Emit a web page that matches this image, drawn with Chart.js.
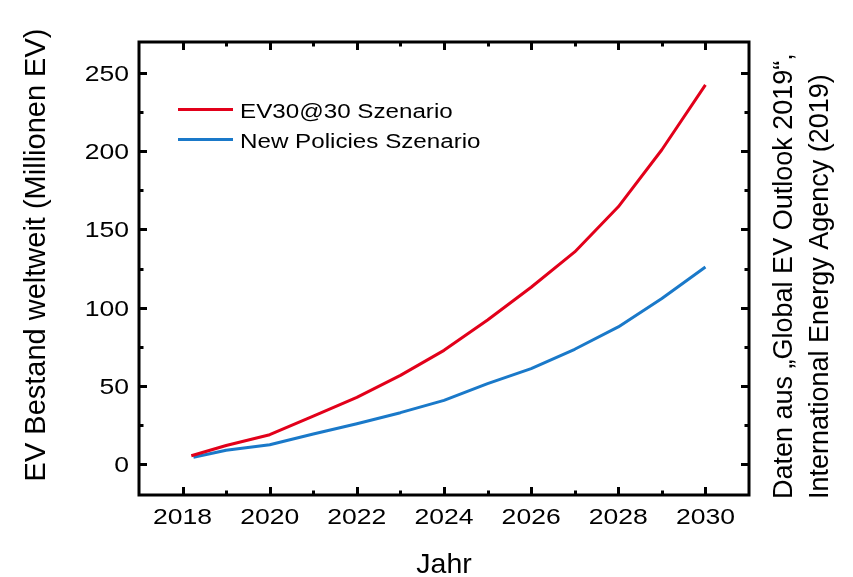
<!DOCTYPE html>
<html>
<head>
<meta charset="utf-8">
<script src="https://cdn.jsdelivr.net/npm/chart.js@4/dist/chart.umd.min.js"></script>
<style>
  html, body { margin: 0; padding: 0; background: #fff; }
  #wrap { width: 853px; height: 577px; }
</style>
</head>
<body>
<div id="wrap"><canvas id="c" width="853" height="577"></canvas></div>
<script>
// EV fleet worldwide, million vehicles
const ev3030Years   = [2018.2, 2019, 2020, 2021, 2022, 2023, 2024, 2025, 2026, 2027, 2028, 2029, 2030];
const ev3030Values  = [5.1, 11.7, 18.6, 30.5, 42.5, 56.6, 72.6, 92, 113, 135.6, 164.5, 201, 242.5];
const npsYears      = [2018.25, 2019, 2020, 2021, 2022, 2023, 2024, 2025, 2026, 2027, 2028, 2029, 2030];
const npsValues     = [4.2, 8.7, 12.2, 19, 25.6, 32.7, 40.6, 51.3, 60.9, 73.3, 87.6, 105.8, 126];

const seriesNames   = ['EV30@30 Szenario', 'New Policies Szenario'];
const xTickLabels   = [2018, 2020, 2022, 2024, 2026, 2028, 2030];
const xMinorTicks   = [2019, 2021, 2023, 2025, 2027, 2029];
const yTickLabels   = [0, 50, 100, 150, 200, 250];
const yMinorTicks   = [25, 75, 125, 175, 225];

const xTitle = 'Jahr';
const yTitle = 'EV Bestand weltweit (Millionen EV)';
const noteLines = ['Daten aus \u201EGlobal EV Outlook 2019\u201C,', 'International Energy Agency (2019)'];

const RED = '#e2001a';
const BLUE = '#1a79c9';
const FONT = "'Liberation Sans', Arial, sans-serif";

function text(ctx, str, x, y, size, align, sx, rot) {
  ctx.save();
  ctx.translate(x, y);
  if (rot) ctx.rotate(rot);
  ctx.scale(sx, 1);
  ctx.font = size + 'px ' + FONT;
  ctx.fillStyle = '#000';
  ctx.textAlign = align;
  ctx.textBaseline = 'alphabetic';
  ctx.fillText(str, 0, 0);
  ctx.restore();
}

// frame with inward ticks on all four sides, tick labels, titles, legend
const frameAndLabels = {
  id: 'frameAndLabels',
  afterDraw(chart) {
    const { ctx, chartArea: a, scales: { x, y } } = chart;
    ctx.save();
    ctx.strokeStyle = '#000';
    ctx.lineWidth = 3;
    ctx.lineCap = 'butt';
    ctx.strokeRect(a.left, a.top, a.right - a.left, a.bottom - a.top);

    const MAJ = 8, MIN = 4.5;
    ctx.beginPath();
    xTickLabels.forEach(v => {
      const px = Math.round(x.getPixelForValue(v)) + 0.5;
      ctx.moveTo(px, a.bottom); ctx.lineTo(px, a.bottom - MAJ);
      ctx.moveTo(px, a.top); ctx.lineTo(px, a.top + MAJ);
    });
    xMinorTicks.forEach(v => {
      const px = Math.round(x.getPixelForValue(v)) + 0.5;
      ctx.moveTo(px, a.bottom); ctx.lineTo(px, a.bottom - MIN);
      ctx.moveTo(px, a.top); ctx.lineTo(px, a.top + MIN);
    });
    yTickLabels.forEach(v => {
      const py = Math.round(y.getPixelForValue(v)) + 0.5;
      ctx.moveTo(a.left, py); ctx.lineTo(a.left + MAJ, py);
      ctx.moveTo(a.right, py); ctx.lineTo(a.right - MAJ, py);
    });
    yMinorTicks.forEach(v => {
      const py = Math.round(y.getPixelForValue(v)) + 0.5;
      ctx.moveTo(a.left, py); ctx.lineTo(a.left + MIN, py);
      ctx.moveTo(a.right, py); ctx.lineTo(a.right - MIN, py);
    });
    ctx.stroke();
    ctx.restore();

    // tick labels
    xTickLabels.forEach(v => text(ctx, String(v), x.getPixelForValue(v), a.bottom + 29, 22.5, 'center', 1.18));
    yTickLabels.forEach(v => text(ctx, String(v), a.left - 10, y.getPixelForValue(v) + 8, 22.5, 'right', 1.18));

    // axis titles
    text(ctx, xTitle, (a.left + a.right) / 2, 573, 28.5, 'center', 1);
    text(ctx, yTitle, 45, 255, 29, 'center', 1, -Math.PI / 2);

    // source note on the right
    text(ctx, noteLines[0], 792, 499, 27, 'left', 1, -Math.PI / 2);
    text(ctx, noteLines[1], 828, 499, 27, 'left', 1, -Math.PI / 2);

    // legend
    const items = [[RED, 109.5, 118], [BLUE, 139.5, 148]];
    items.forEach(([col, ly, by], i) => {
      ctx.save();
      ctx.strokeStyle = col;
      ctx.lineWidth = 3;
      ctx.beginPath();
      ctx.moveTo(178, ly); ctx.lineTo(233, ly);
      ctx.stroke();
      ctx.restore();
      text(ctx, seriesNames[i], 240, by, 19.5, 'left', 1.24);
    });
  }
};

new Chart(document.getElementById('c'), {
  type: 'line',
  data: {
    datasets: [
      {
        label: seriesNames[0],
        data: ev3030Years.map((yr, i) => ({ x: yr, y: ev3030Values[i] })),
        borderColor: RED, borderWidth: 3, pointRadius: 0, tension: 0,
        fill: false, borderJoinStyle: 'round'
      },
      {
        label: seriesNames[1],
        data: npsYears.map((yr, i) => ({ x: yr, y: npsValues[i] })),
        borderColor: BLUE, borderWidth: 3, pointRadius: 0, tension: 0,
        fill: false, borderJoinStyle: 'round'
      }
    ]
  },
  options: {
    responsive: false,
    animation: false,
    devicePixelRatio: 1,
    layout: { padding: { top: 42, right: 104, left: 0, bottom: 0 } },
    plugins: { legend: { display: false }, tooltip: { enabled: false }, title: { display: false } },
    scales: {
      x: {
        type: 'linear', min: 2017, max: 2031,
        ticks: { display: false }, grid: { display: false }, border: { display: false },
        afterFit(s) { s.height = 82; }
      },
      y: {
        type: 'linear', min: -20, max: 270,
        ticks: { display: false }, grid: { display: false }, border: { display: false },
        afterFit(s) { s.width = 139; }
      }
    }
  },
  plugins: [frameAndLabels]
});
</script>
</body>
</html>
